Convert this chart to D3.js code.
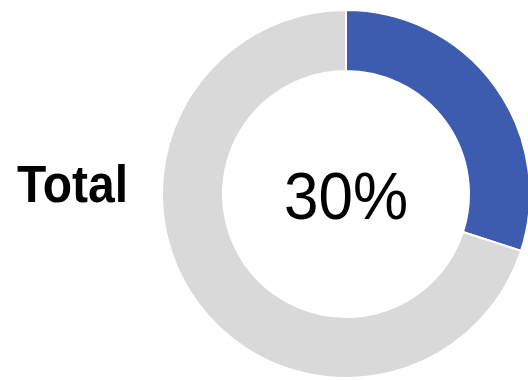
<!DOCTYPE html>
<html>
<head>
<meta charset="utf-8">
<script src="https://cdn.jsdelivr.net/npm/d3@7"></script>
<style>
  body { margin: 0; background: #fff; }
  svg { display: block; }
</style>
</head>
<body>
<div class="canvas"></div>
<script>
// Data
const categories = ["Total", "Rest"];
const values = [30, 70];
const colors = ["#3d5caf", "#d9d9d9"];
const label = "Total";

// Dimensions
const width = 528;
const height = 380;
const cx = 346, cy = 194;
const outerR = 184, innerR = 123;

const svg = d3.select(".canvas")
  .append("svg")
    .attr("width", width)
    .attr("height", height);

const g = svg.append("g")
  .attr("transform", `translate(${cx},${cy})`);

// Pie layout, keep order, start at 12 o'clock
const pie = d3.pie().sort(null).value(d => d);
const arc = d3.arc().innerRadius(innerR).outerRadius(outerR);

g.selectAll("path")
  .data(pie(values))
  .join("path")
    .attr("d", arc)
    .attr("fill", (d, i) => colors[i])
    .attr("stroke", "#fff")
    .attr("stroke-width", 2);

// centre percentage (font in the original is a bit taller, so stretch y a little)
const total = d3.sum(values);
g.append("text")
  .attr("transform", "translate(0,25) scale(1,1.08)")
  .attr("text-anchor", "middle")
  .style("font-family", "Liberation Sans, Arial, sans-serif")
  .style("font-size", "62px")
  .text(d3.format(".0%")(values[0] / total));

// left label
svg.append("text")
  .attr("transform", "translate(17,202) scale(1,1.07)")
  .style("font-family", "Liberation Sans, Arial, sans-serif")
  .style("font-weight", "bold")
  .style("font-size", "48px")
  .text(label);
</script>
</body>
</html>
